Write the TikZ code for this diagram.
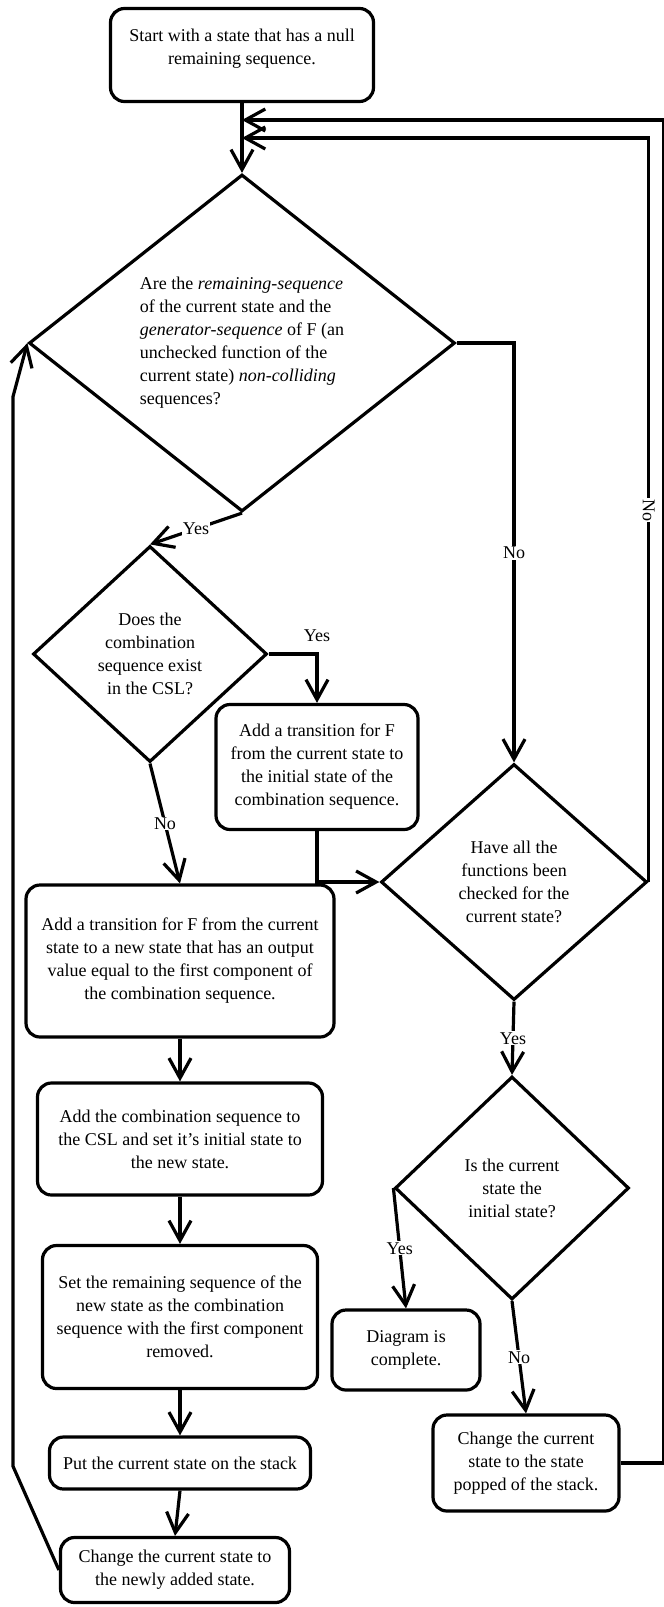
\documentclass[tikz,border=0pt]{standalone}
\usepackage{fontspec}
\setmainfont{Liberation Serif}
\usetikzlibrary{shapes.geometric,arrows.meta}

\tikzset{
  box/.style={draw, line width=3.2pt, rounded corners=14pt, align=center, inner sep=2pt},
  dec/.style={draw, diamond, line width=3.2pt, align=center, inner sep=0pt},
  arr/.style={line width=3.2pt, -{Straight Barb[length=20pt,width=22pt]}},
  lab/.style={fill=white, inner sep=1pt},
}

\begin{document}
\begin{tikzpicture}[x=1pt, y=-1pt, font=\fontsize{18}{23}\selectfont]

\useasboundingbox (0,0) rectangle (664,1607) ;

%start and first test
\node [box, minimum width=263pt, minimum height=93pt] (start) at (242,55) {Start with a state that has a null\\remaining sequence.\\[-6pt]\mbox{}} ;
\node [dec, aspect=1.26, minimum width=426pt, minimum height=337pt, align=left] (d1) at (242,343)
  {Are the \textit{remaining-sequence}\\of the current state and the\\\textit{generator-sequence} of F (an\\unchecked function of the\\current state) \textit{non-colliding}\\sequences?} ;

%left column
\node [dec, aspect=1.08, minimum width=234pt, minimum height=216pt] (d2) at (150,654) {Does the\\combination\\sequence exist\\in the CSL?} ;
\node [box, minimum width=202pt, minimum height=125pt] (trans) at (317,767) {Add a transition for F\\from the current state to\\the initial state of the\\combination sequence.} ;
\node [box, minimum width=308pt, minimum height=152pt] (newst) at (180,961) {Add a transition for F from the current\\state to a new state that has an output\\value equal to the first component of\\the combination sequence.} ;
\node [box, minimum width=285pt, minimum height=112pt] (csl) at (180,1139) {Add the combination sequence to\\the CSL and set it's initial state to\\the new state.} ;
\node [box, minimum width=275pt, minimum height=143pt] (remseq) at (180,1317) {Set the remaining sequence of the\\new state as the combination\\sequence with the first component\\removed.} ;
\node [box, minimum width=261pt, minimum height=52pt] (push) at (180,1463) {Put the current state on the stack} ;
\node [box, minimum width=229pt, minimum height=65pt] (chg) at (175,1570) {Change the current state to\\the newly added state.} ;

%right column
\node [dec, aspect=1.13, minimum width=266pt, minimum height=236pt] (d3) at (514,882) {Have all the\\functions been\\checked for the\\current state?} ;
\node [dec, aspect=1.05, minimum width=234pt, minimum height=223pt] (d4) at (512,1188) {Is the current\\state the\\initial state?} ;
\node [box, minimum width=148pt, minimum height=80pt] (done) at (406,1350) {Diagram is\\complete.} ;
\node [box, minimum width=186pt, minimum height=96pt] (pop) at (526,1463) {Change the current\\state to the state\\popped of the stack.} ;

\coordinate (in1) at (242,120) ;
\coordinate (in2) at (242,138) ;

%connectors
\draw [arr] (start) to (d1) ;
\draw [arr] (d1.south) to node [lab] {Yes} (d2.north) ;
\draw [arr] (d1.east) -| node [lab, pos=.75] {No} (d3.north) ;
\draw [arr] (d2.east) -| node [pos=.5, above=7pt] {Yes} (trans.north) ;
\draw [arr] (d2.south) to node [lab] {No} (newst.north) ;
\draw [arr] (trans.south) |- (d3.west) ;
\draw [arr] (newst) to (csl) ;
\draw [arr] (csl) to (remseq) ;
\draw [arr] (remseq) to (push) ;
\draw [arr] (push.south) to (chg.north) ;
\draw [arr] (chg.west) -- ++(-46,-104) -- ++(0,-1069) -- (d1.west) ;
\draw [arr] (d3.south) to node [lab] {Yes} (d4.north) ;
\draw [arr] (d3.east) |- node [lab, rotate=-90, pos=.25] {No} (in2) ;
\draw [arr] (d4.west) to node [lab] {Yes} (done.north) ;
\draw [arr] (d4.south) to node [lab] {No} (pop.north) ;
\draw [arr] (pop.east) -- ++(43,0) |- (in1) ;

\end{tikzpicture}
\end{document}
